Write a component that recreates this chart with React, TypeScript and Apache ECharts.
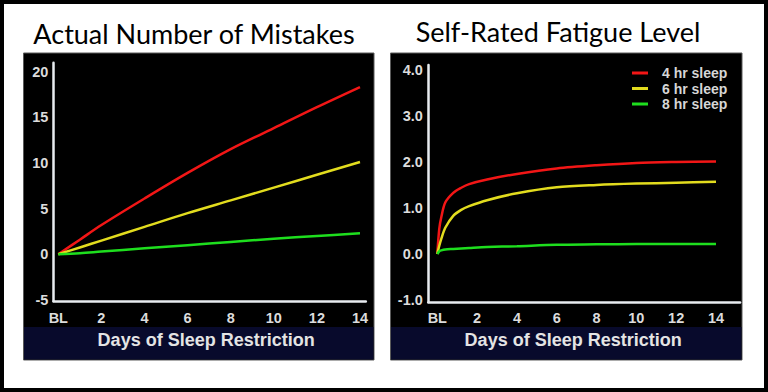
import React, { useEffect, useRef } from 'react';
import * as echarts from 'echarts';

const seriesNames = ['4 hr sleep', '6 hr sleep', '8 hr sleep'];
const seriesColors = ['#f21616', '#e2dc1e', '#1ede1e'];

const leftTitle = 'Actual Number of Mistakes';
const rightTitle = 'Self-Rated Fatigue Level';
const xAxisTitle = 'Days of Sleep Restriction';

// Left panel: actual number of mistakes
const mistakeDays = [0, 1, 2, 4, 6, 8, 10, 12, 14];
const mistakes4hr = [0, 1.6, 3.2, 6.1, 8.9, 11.5, 13.8, 16.1, 18.3];
const mistakes6hr = [0, 0.75, 1.5, 3.0, 4.5, 5.9, 7.3, 8.7, 10.1];
const mistakes8hr = [0, 0.12, 0.3, 0.65, 1.0, 1.35, 1.7, 2.0, 2.3];

// Right panel: self-rated fatigue level
const fatigueDays = [0, 0.1, 0.2, 0.4, 0.8, 1.2, 1.6, 2.5, 4, 6, 8, 10, 12, 14];
const fatigue4hr = [0, 0.55, 0.8, 1.12, 1.33, 1.44, 1.52, 1.62, 1.74, 1.86, 1.93, 1.98, 2.0, 2.01];
const fatigue6hr = [0, 0.18, 0.33, 0.57, 0.83, 0.96, 1.04, 1.17, 1.32, 1.45, 1.5, 1.53, 1.55, 1.57];
const fatigue8hr = [0, 0.06, 0.08, 0.1, 0.11, 0.12, 0.13, 0.15, 0.17, 0.2, 0.21, 0.22, 0.22, 0.22];

// Axis ranges / ticks
const dayRange = [0, 14];
const dayStep = 2;
const mistakeRange = [-5, 20];
const mistakeStep = 5;
const fatigueRange = [-1, 4];
const fatigueStep = 1;

const zip = (xs: number[], ys: number[]) => xs.map((x, i) => [x, ys[i]]);

const labelColor = '#dcdcdc';
const axisFont = 'Liberation Sans, Arial, sans-serif';

export default function App() {
  const ref = useRef<HTMLDivElement>(null);
  useEffect(() => {
    if (!ref.current) return;
    const chart = echarts.init(ref.current, undefined, { renderer: 'svg' });

    const dataXAxis = (gridIndex: number, namePad: number[]) => ({
      type: 'value',
      gridIndex,
      min: dayRange[0],
      max: dayRange[1],
      interval: dayStep,
      axisLine: { show: false },
      axisTick: { show: false },
      splitLine: { show: false },
      axisLabel: {
        margin: 10,
        color: labelColor,
        fontSize: 14.5,
        fontWeight: 'bold',
        fontFamily: axisFont,
        formatter: (v: number) => (v === 0 ? 'BL' : String(v)),
      },
      name: xAxisTitle,
      nameLocation: 'middle',
      nameGap: 31,
      nameTextStyle: {
        color: '#e4e4e4',
        fontSize: 18,
        fontWeight: 'bold',
        fontFamily: axisFont,
        padding: namePad,
      },
    });

    const dataYAxis = (gridIndex: number, range: number[], step: number, margin: number, digits: number) => ({
      type: 'value',
      gridIndex,
      min: range[0],
      max: range[1],
      interval: step,
      axisLine: { show: false },
      axisTick: { show: false },
      splitLine: { show: false },
      axisLabel: {
        margin,
        color: labelColor,
        fontSize: 14.5,
        fontWeight: 'bold',
        fontFamily: axisFont,
        formatter: (v: number) => v.toFixed(digits),
      },
    });

    const frameAxis = (gridIndex: number) => ({
      type: 'value',
      gridIndex,
      min: 0,
      max: 1,
      axisLine: { show: true, lineStyle: { color: '#e8ecf0', width: 2.5 } },
      axisTick: { show: false },
      axisLabel: { show: false },
      splitLine: { show: false },
    });

    const makeSeries = (xIdx: number, days: number[], values: number[][], smooth: number) =>
      values.map((vals, i) => ({
        name: seriesNames[i],
        type: 'line',
        xAxisIndex: xIdx,
        yAxisIndex: xIdx,
        data: zip(days, vals),
        showSymbol: false,
        smooth,
        color: seriesColors[i],
        lineStyle: { width: 2.5, color: seriesColors[i] },
        z: 5,
      }));

    chart.setOption({
      animation: false,
      backgroundColor: '#ffffff',
      graphic: [
        { type: 'rect', z: -20, shape: { x: 23.5, y: 53, width: 350.5, height: 307 }, style: { fill: '#000000', stroke: '#5a5a5a', lineWidth: 1 } },
        { type: 'rect', z: -19, shape: { x: 24, y: 327, width: 349.5, height: 32.5 }, style: { fill: '#080a2c' } },
        { type: 'rect', z: -20, shape: { x: 390.5, y: 53, width: 351.5, height: 307 }, style: { fill: '#000000', stroke: '#5a5a5a', lineWidth: 1 } },
        { type: 'rect', z: -19, shape: { x: 391, y: 327, width: 350.5, height: 32.5 }, style: { fill: '#080a2c' } },
        { type: 'rect', z: 30, shape: { x: 2, y: 2, width: 764, height: 388 }, style: { fill: 'none', stroke: '#000000', lineWidth: 4 } },
        { type: 'text', z: 30, x: 194, y: 33, style: { text: leftTitle, fill: '#000000', font: '27px Lato, sans-serif', textAlign: 'center', textVerticalAlign: 'middle' } },
        { type: 'text', z: 30, x: 558, y: 31, style: { text: rightTitle, fill: '#000000', font: '27px Lato, sans-serif', textAlign: 'center', textVerticalAlign: 'middle' } },
      ],
      legend: {
        data: seriesNames,
        orient: 'vertical',
        left: 632,
        top: 66,
        padding: 0,
        icon: 'rect',
        itemWidth: 16,
        itemHeight: 3,
        itemGap: 1.5,
        textStyle: {
          color: '#d6d6d6',
          fontSize: 14,
          fontWeight: 'bold',
          fontFamily: axisFont,
          padding: [0, 0, 0, 9],
        },
      },
      grid: [
        { left: 58.3, top: 71.5, width: 301.7, height: 228.5 },
        { left: 437.3, top: 70, width: 278.7, height: 230 },
        { left: 53.5, top: 62.7, width: 312.3, height: 238.3 },
        { left: 428.3, top: 65, width: 311.7, height: 237 },
      ],
      xAxis: [dataXAxis(0, [0, 6, 0, 0]), dataXAxis(1, [0, 7, 0, 0]), frameAxis(2), frameAxis(3)],
      yAxis: [
        dataYAxis(0, mistakeRange, mistakeStep, 10, 0),
        dataYAxis(1, fatigueRange, fatigueStep, 14.5, 1),
        frameAxis(2),
        frameAxis(3),
      ],
      series: [
        ...makeSeries(0, mistakeDays, [mistakes4hr, mistakes6hr, mistakes8hr], 0.35),
        ...makeSeries(1, fatigueDays, [fatigue4hr, fatigue6hr, fatigue8hr], 0.3),
      ],
    });
    return () => chart.dispose();
  }, []);
  return <div ref={ref} style={{ position: 'fixed', left: 0, top: 0, width: 768, height: 392 }} />;
}
